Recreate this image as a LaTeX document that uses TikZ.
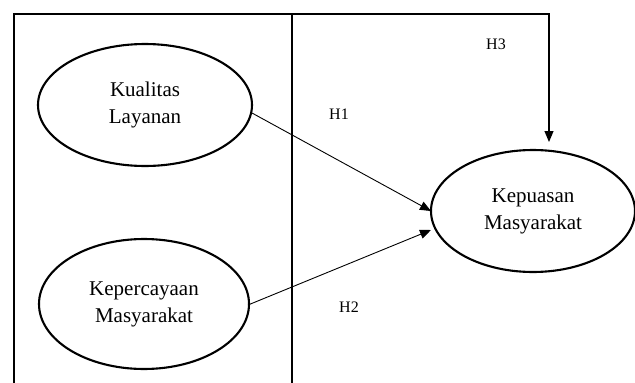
\documentclass[tikz,border=0pt]{standalone}
\usepackage{fontspec}
\setmainfont{Liberation Serif}
\usetikzlibrary{shapes.geometric,arrows.meta}
\begin{document}
\begin{tikzpicture}[x=1pt,y=-1pt,
  var/.style={draw,line width=2.1pt,ellipse,inner sep=0pt,align=center,font=\fontsize{21}{27}\selectfont},
  link/.style={line width=0.9pt,-{Triangle[length=11pt,width=9pt]}},
  hlab/.style={font=\fontsize{16}{18}\selectfont,inner sep=0pt}]
\useasboundingbox (0,0) rectangle (635,383);
\fill[white] (0,0) rectangle (635,383);
% frame
\coordinate (bl) at (14,390);
\coordinate (tl) at (14,14);
\coordinate (tr) at (292,14);
\coordinate (br) at (292,390);
\draw[line width=2.1pt] (bl) -- (tl) -- (tr) -- (br);
% variables
\node[var,minimum width=214pt,minimum height=122pt] (kl) at (145,105) {Kualitas\\Layanan};
\node[var,minimum width=210pt,minimum height=130pt] (km) at (144,304) {Kepercayaan\\Masyarakat};
\node[var,minimum width=204pt,minimum height=122pt] (kp) at (533,211) {Kepuasan\\Masyarakat};
% connectors
\coordinate (a1s) at (252,113);
\coordinate (a1e) at (431,211);
\coordinate (a2s) at (248,305);
\coordinate (a2e) at (431,230);
\coordinate (a3e) at (549,142);
\draw[link] (a1s) -- (a1e);
\draw[link] (a2s) -- (a2e);
\draw[link,line width=1.2pt] (tr) -| (a3e);
% labels
\node[hlab] (h1) at (339,114) {H1};
\node[hlab] (h2) at (349,307) {H2};
\node[hlab] (h3) at (496,44) {H3};
\end{tikzpicture}
\end{document}
